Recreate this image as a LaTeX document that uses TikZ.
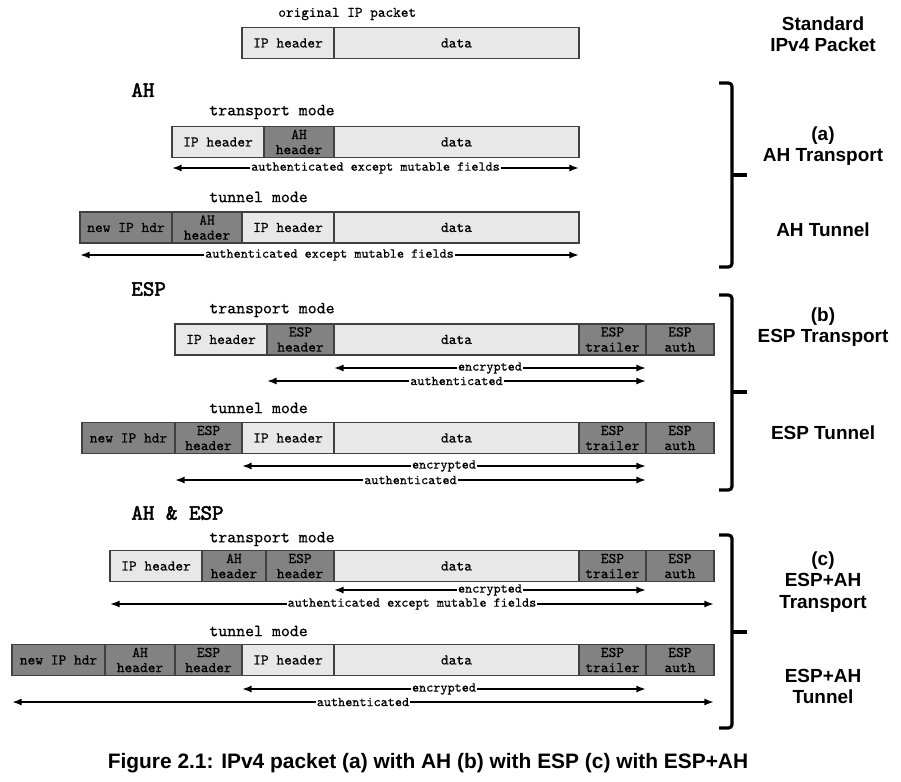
\documentclass[tikz,border=0pt]{standalone}
\usepackage{fontspec}
\usepackage{tikz}
\usetikzlibrary{positioning, arrows.meta}
\newfontfamily\sansfnt{Liberation Sans}
\newfontfamily\monofnt{lmmono10-regular.otf}[FakeBold=0.5]
\newfontfamily\monobold{lmmono10-regular.otf}[FakeBold=2.2]

\begin{document}
\begin{tikzpicture}[x=0.02cm, y=-0.02cm,
  fld/.style={draw=black!75, line width=0.8pt, minimum height=0.62cm, inner sep=0pt,
    outer sep=0pt, align=center, font=\monofnt\fontsize{8.4}{8.6}\selectfont},
  lt/.style={fld, fill=black!9},
  dk/.style={fld, fill=black!49},
  mode/.style={anchor=west, inner sep=0pt, font=\monofnt\fontsize{9.7}{11}\selectfont},
  sect/.style={anchor=west, inner sep=0pt, font=\monobold\fontsize{12.5}{14}\selectfont},
  side/.style={align=center, font=\sansfnt\bfseries\fontsize{10.8}{12}\selectfont},
  arr/.style={{Latex[length=1.9mm,width=1.4mm]}-{Latex[length=1.9mm,width=1.4mm]}, line width=1pt},
  albl/.style={fill=white, inner sep=0.6pt, font=\monofnt\fontsize{7.7}{8}\selectfont},
  brace/.style={line width=1.8pt, rounded corners=2pt}]
  \useasboundingbox (0,0) rectangle (901,781);

  % Standard IPv4 packet
  \node[mode, font=\monofnt\fontsize{8.3}{9}\selectfont] (origLbl) at (278,14) {original IP packet};
  \node[lt, minimum width=4.9cm, anchor=west] (origData) at (334,43) {data};
  \node[lt, minimum width=1.84cm, left=0pt of origData] (origIP) {IP header};
  \node[side] (stdLbl) at (823,34.5) {Standard\\IPv4 Packet};

  % AH
  \node[sect] (ahLbl) at (131,90) {AH};
  \node[mode] (ahtLbl) at (209,112) {transport mode};
  \node[lt, minimum width=4.9cm, anchor=west] (ahtData) at (334,142) {data};
  \node[dk, minimum width=1.40cm, left=0pt of ahtData] (ahtAH) {AH\\header};
  \node[lt, minimum width=1.84cm, left=0pt of ahtAH] (ahtIP) {IP header};
  \draw[arr] (ahtIP.west |- 0,168) -- node[albl] (ahtAuth) {authenticated except mutable fields} (ahtData.east |- 0,168);

  \node[mode] (ahnLbl) at (209,197) {tunnel mode};
  \node[lt, minimum width=4.9cm, anchor=west] (ahnData) at (334,227.5) {data};
  \node[lt, minimum width=1.84cm, left=0pt of ahnData] (ahnIP) {IP header};
  \node[dk, minimum width=1.40cm, left=0pt of ahnIP] (ahnAH) {AH\\header};
  \node[dk, minimum width=1.84cm, left=0pt of ahnAH] (ahnNew) {new IP hdr};
  \draw[arr] (ahnNew.west |- 0,255) -- node[albl] (ahnAuth) {authenticated except mutable fields} (ahnData.east |- 0,255);

  \draw[brace] (719,83) -- (732,83) -- (732,267) -- (719,267);
  \draw[brace] (732,175) -- (747,175);
  \node[side] (ahTLbl) at (823,146) {(a)\\AH Transport};
  \node[side] (ahNLbl) at (823,230) {AH Tunnel};

  % ESP
  \node[sect] (espLbl) at (131,289) {ESP};
  \node[mode] (esptLbl) at (209,310) {transport mode};
  \node[lt, minimum width=4.9cm, anchor=west] (esptData) at (334,339.5) {data};
  \node[dk, minimum width=1.34cm, left=0pt of esptData] (esptESP) {ESP\\header};
  \node[lt, minimum width=1.84cm, left=0pt of esptESP] (esptIP) {IP header};
  \node[dk, minimum width=1.34cm, right=0pt of esptData] (esptTrl) {ESP\\trailer};
  \node[dk, minimum width=1.36cm, right=0pt of esptTrl] (esptAuth) {ESP\\auth};
  \draw[arr] (esptData.west |- 0,368) -- node[albl] (esptEnc) {encrypted} (esptTrl.east |- 0,368);
  \draw[arr] (esptESP.west |- 0,381) -- node[albl] (esptAut) {authenticated} (esptTrl.east |- 0,381);

  \node[mode] (espnLbl) at (209,408) {tunnel mode};
  \node[lt, minimum width=4.9cm, anchor=west] (espnData) at (334,438) {data};
  \node[lt, minimum width=1.84cm, left=0pt of espnData] (espnIP) {IP header};
  \node[dk, minimum width=1.34cm, left=0pt of espnIP] (espnESP) {ESP\\header};
  \node[dk, minimum width=1.86cm, left=0pt of espnESP] (espnNew) {new IP hdr};
  \node[dk, minimum width=1.34cm, right=0pt of espnData] (espnTrl) {ESP\\trailer};
  \node[dk, minimum width=1.36cm, right=0pt of espnTrl] (espnAuth) {ESP\\auth};
  \draw[arr] (espnIP.west |- 0,466) -- node[albl] (espnEnc) {encrypted} (espnTrl.east |- 0,466);
  \draw[arr] (espnESP.west |- 0,480) -- node[albl] (espnAut) {authenticated} (espnTrl.east |- 0,480);

  \draw[brace] (719,295) -- (732,295) -- (732,490) -- (719,490);
  \draw[brace] (732,392) -- (747,392);
  \node[side] (espTLbl) at (823,327) {(b)\\ESP Transport};
  \node[side] (espNLbl) at (823,433) {ESP Tunnel};

  % AH & ESP
  \node[sect] (aeLbl) at (131,513) {AH \& ESP};
  \node[mode] (aetLbl) at (209,539) {transport mode};
  \node[lt, minimum width=4.9cm, anchor=west] (aetData) at (334,566) {data};
  \node[dk, minimum width=1.36cm, left=0pt of aetData] (aetESP) {ESP\\header};
  \node[dk, minimum width=1.28cm, left=0pt of aetESP] (aetAH) {AH\\header};
  \node[lt, minimum width=1.84cm, left=0pt of aetAH] (aetIP) {IP header};
  \node[dk, minimum width=1.34cm, right=0pt of aetData] (aetTrl) {ESP\\trailer};
  \node[dk, minimum width=1.36cm, right=0pt of aetTrl] (aetAuth) {ESP\\auth};
  \draw[arr] (aetData.west |- 0,590) -- node[albl] (aetEnc) {encrypted} (aetTrl.east |- 0,590);
  \draw[arr] (aetIP.west |- 0,604) -- node[albl] (aetAut) {authenticated except mutable fields} (aetAuth.east |- 0,604);

  \node[mode] (aenLbl) at (209,631) {tunnel mode};
  \node[lt, minimum width=4.9cm, anchor=west] (aenData) at (334,660) {data};
  \node[lt, minimum width=1.84cm, left=0pt of aenData] (aenIP) {IP header};
  \node[dk, minimum width=1.34cm, left=0pt of aenIP] (aenESP) {ESP\\header};
  \node[dk, minimum width=1.40cm, left=0pt of aenESP] (aenAH) {AH\\header};
  \node[dk, minimum width=1.86cm, left=0pt of aenAH] (aenNew) {new IP hdr};
  \node[dk, minimum width=1.34cm, right=0pt of aenData] (aenTrl) {ESP\\trailer};
  \node[dk, minimum width=1.36cm, right=0pt of aenTrl] (aenAuth) {ESP\\auth};
  \draw[arr] (aenIP.west |- 0,689) -- node[albl] (aenEnc) {encrypted} (aenTrl.east |- 0,689);
  \draw[arr] (aenNew.west |- 0,702) -- node[albl] (aenAut) {authenticated} (aenAuth.east |- 0,702);

  \draw[brace] (719,535) -- (732,535) -- (732,728) -- (719,728);
  \draw[brace] (732,632) -- (747,632);
  \node[side] (aeTLbl) at (823,582) {(c)\\ESP+AH\\Transport};
  \node[side] (aeNLbl) at (823,686) {ESP+AH\\Tunnel};

  % Caption
  \node[font=\sansfnt\bfseries\fontsize{11.9}{14}\selectfont] (caption) at (428,763)
    {Figure 2.1: IPv4 packet (a) with AH (b) with ESP (c) with ESP+AH};
\end{tikzpicture}
\end{document}
